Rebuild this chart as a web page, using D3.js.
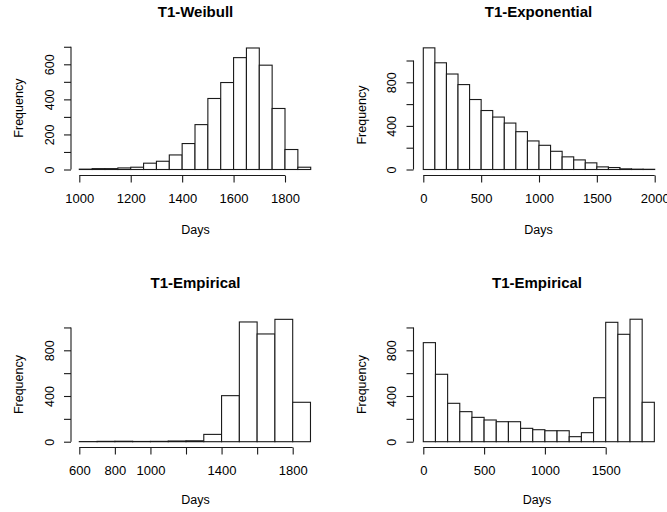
<!DOCTYPE html>
<html>
<head>
<meta charset="utf-8">
<script src="https://cdn.jsdelivr.net/npm/d3@7"></script>
<style>
  body { margin: 0; background: #fff; }
  text { font-family: "Liberation Sans", Arial, sans-serif; fill: #000; }
</style>
</head>
<body>
<div id="chart"></div>
<script>
// Data
const weibullStart = [1000,1050,1100,1150,1200,1250,1300,1350,1400,1450,1500,1550,1600,1650,1700,1750,1800,1850]
const weibullCounts = [2,5,5,9,13,36,47,83,148,256,405,496,638,693,595,348,114,13]

const expStart = [0,100,200,300,400,500,600,700,800,900,1000,1100,1200,1300,1400,1500,1600,1700,1800,1900]
const expCounts = [1116,979,876,779,642,541,481,426,347,262,222,167,116,88,61,24,18,6,3,2]

const emp1Start = [600,700,800,900,1000,1100,1200,1300,1400,1500,1600,1700,1800]
const emp1Counts = [1,3,4,2,3,6,8,64,403,1048,943,1071,345]

const emp2Start = [0,100,200,300,400,500,600,700,800,900,1000,1100,1200,1300,1400,1500,1600,1700,1800]
const emp2Counts = [867,590,336,263,213,190,175,175,117,105,96,96,44,79,385,1045,940,1072,345]

const titles = ["T1-Weibull", "T1-Exponential", "T1-Empirical", "T1-Empirical"]

const xTicks1 = [1000,1200,1400,1600,1800]
const xTicks2 = [0,500,1000,1500,2000]
const xTicks3 = [600,800,1000,1200,1400,1600,1800]
const xLabels3 = [600,800,1000,1400,1800]
const xTicks4 = [0,500,1000,1500]

const yTicks1 = [0,100,200,300,400,500,600,700]
const yLabels1 = [0,200,400,600]
const yTicks2 = [0,200,400,600,800,1000]
const yLabels2 = [0,400,800]

const width = 667, height = 512

const svg = d3.select('#chart').append('svg')
  .attr('width', width)
  .attr('height', height)

// panel layout
const panels = [
  {title: titles[0], start: weibullStart, counts: weibullCounts, binW: 50,
   xDom: [1000,1800], xRange: [79.3,285], yDom: [0,600], yRange: [169.5,64.3],
   yAxisX: 71, xAxisY: 175.5, xTicks: xTicks1, xLabels: xTicks1, yTicks: yTicks1, yLabels: yLabels1,
   cx: 195.5, titleY: 16.7, daysY: 233.5, freqX: 23},
  {title: titles[1], start: expStart, counts: expCounts, binW: 100,
   xDom: [0,2000], xRange: [423.3,654.7], yDom: [0,800], yRange: [169.5,82.3],
   yAxisX: 413.5, xAxisY: 175.5, xTicks: xTicks2, xLabels: xTicks2, yTicks: yTicks2, yLabels: yLabels2,
   cx: 538.5, titleY: 16.7, daysY: 233.5, freqX: 366},
  {title: titles[2], start: emp1Start, counts: emp1Counts, binW: 100,
   xDom: [600,1800], xRange: [79.3,292.7], yDom: [0,800], yRange: [441.7,350.3],
   yAxisX: 71, xAxisY: 447.5, xTicks: xTicks3, xLabels: xLabels3, yTicks: yTicks2, yLabels: yLabels2,
   cx: 195.5, titleY: 288.3, daysY: 504, freqX: 23},
  {title: titles[3], start: emp2Start, counts: emp2Counts, binW: 100,
   xDom: [0,1500], xRange: [423.3,605.7], yDom: [0,800], yRange: [441.7,350.3],
   yAxisX: 413.5, xAxisY: 447.5, xTicks: xTicks4, xLabels: xTicks4, yTicks: yTicks2, yLabels: yLabels2,
   cx: 537, titleY: 288.3, daysY: 504, freqX: 366}
]

function drawPanel(p){
  const g = svg.append('g')
  const x = d3.scaleLinear().domain(p.xDom).range(p.xRange)
  const y = d3.scaleLinear().domain(p.yDom).range(p.yRange)
  const bins = p.start.map((s,i) => ({x0: s, x1: s + p.binW, n: p.counts[i]}))

  // bars
  g.selectAll('rect')
    .data(bins)
    .enter()
    .append('rect')
    .attr('x', d => x(d.x0))
    .attr('width', d => x(d.x1) - x(d.x0))
    .attr('y', d => y(d.n))
    .attr('height', d => y(0) - y(d.n))
    .attr('fill', '#fff')
    .attr('stroke', '#1a1a1a')
    .attr('stroke-width', 1.1)

  // x axis
  const xa = g.append('g')
    .attr('transform', `translate(0,${p.xAxisY})`)
    .call(d3.axisBottom(x).tickValues(p.xTicks).tickSize(7)
      .tickFormat(v => p.xLabels.includes(v) ? v : ''))
  xa.select('.domain').remove()
  xa.append('line')
    .attr('x1', x(p.xTicks[0])).attr('x2', x(p.xTicks[p.xTicks.length-1]))
    .attr('stroke', '#1a1a1a').attr('stroke-width', 1.1)
  xa.selectAll('.tick line').attr('stroke', '#1a1a1a').attr('stroke-width', 1.1)
  xa.selectAll('.tick text')
    .attr('y', 27).attr('dy', 0)
    .style('font-size', '13px')
    .style('font-family', '"Liberation Sans", Arial, sans-serif')
    .attr('fill', '#000')

  // y axis
  const ya = g.append('g')
    .attr('transform', `translate(${p.yAxisX},0)`)
    .call(d3.axisLeft(y).tickValues(p.yTicks).tickSize(7)
      .tickFormat(v => p.yLabels.includes(v) ? v : ''))
  ya.select('.domain').remove()
  ya.append('line')
    .attr('y1', y(p.yTicks[0])).attr('y2', y(p.yTicks[p.yTicks.length-1]))
    .attr('stroke', '#1a1a1a').attr('stroke-width', 1.1)
  ya.selectAll('.tick line').attr('stroke', '#1a1a1a').attr('stroke-width', 1.1)
  ya.selectAll('.tick text')
    .attr('x', 0).attr('dy', 0)
    .attr('transform', 'translate(-17.5,0) rotate(-90)')
    .attr('text-anchor', 'middle')
    .style('font-size', '12.5px')
    .style('font-family', '"Liberation Sans", Arial, sans-serif')
    .attr('fill', '#000')

  // title
  g.append('text')
    .attr('x', p.cx).attr('y', p.titleY)
    .attr('text-anchor', 'middle')
    .attr('font-weight', 'bold')
    .attr('font-size', 15)
    .text(p.title)

  // x label
  g.append('text')
    .attr('x', p.cx).attr('y', p.daysY)
    .attr('text-anchor', 'middle')
    .attr('font-size', 12.5)
    .text('Days')

  // y label
  const midY = (p.yRange[0] + y(p.yTicks[p.yTicks.length-1])) / 2
  g.append('text')
    .attr('transform', `translate(${p.freqX},${midY})rotate(-90)`)
    .attr('text-anchor', 'middle')
    .attr('font-size', 12.5)
    .text('Frequency')
}

panels.forEach(drawPanel)
</script>
</body>
</html>
